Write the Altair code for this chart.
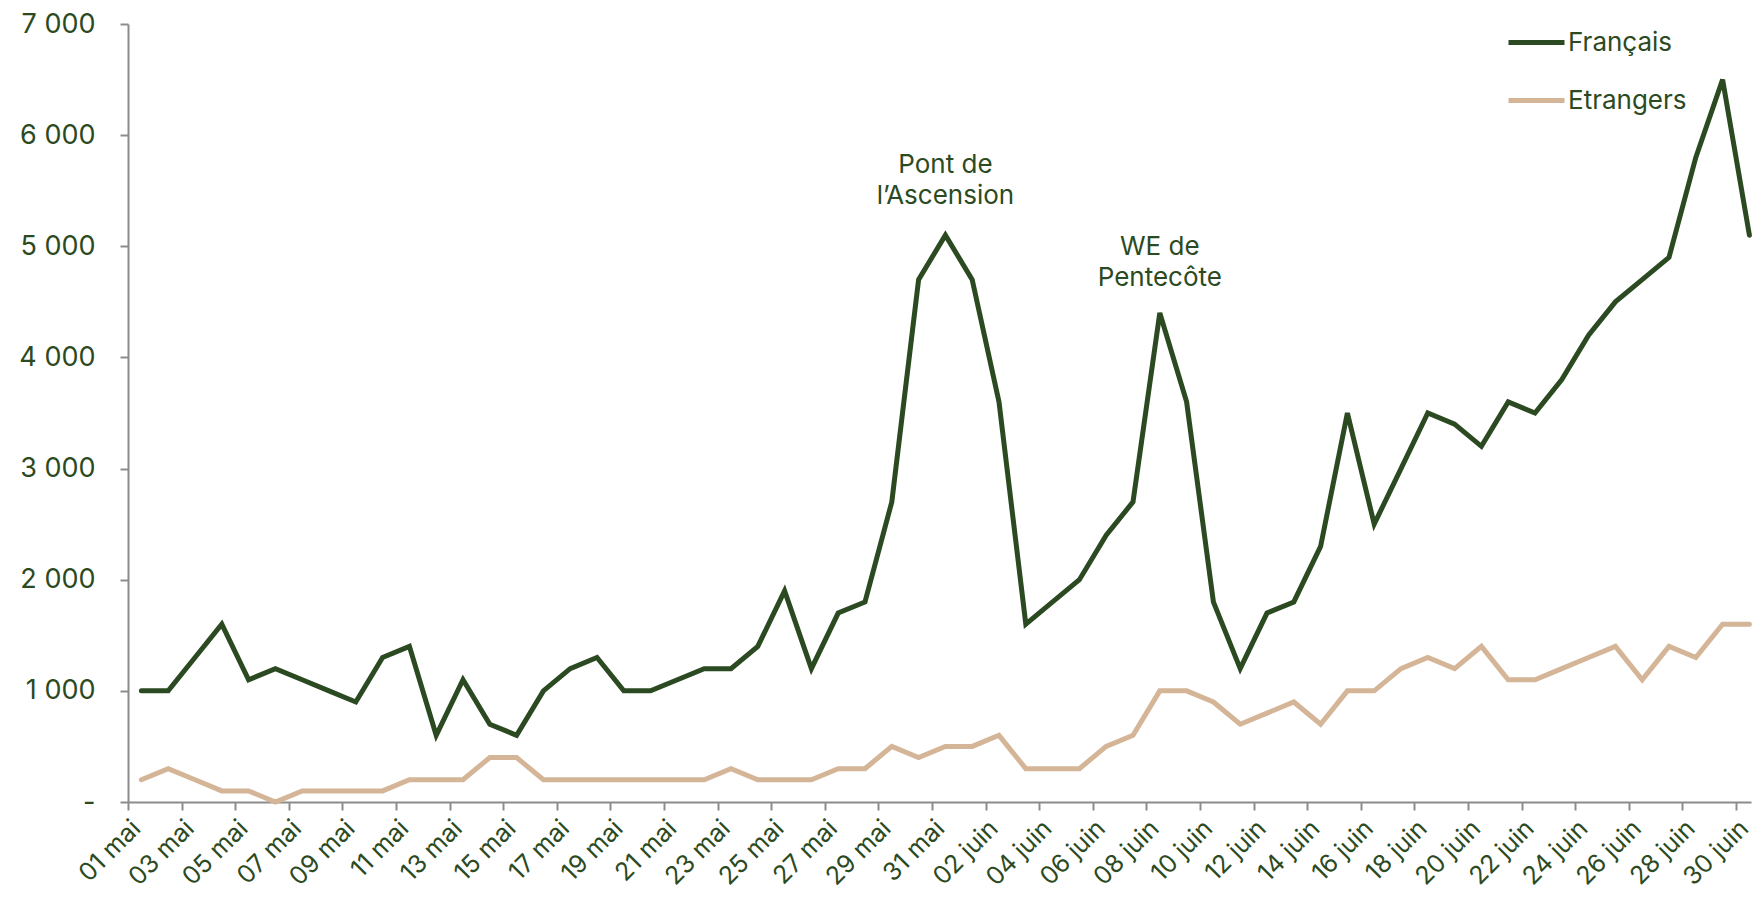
import altair as alt
import pandas as pd

# ---- data ----
dates = ([f"{d:02d} mai" for d in range(1, 32)] +
         [f"{d:02d} juin" for d in range(1, 31)])

francais = [1000, 1000, 1300, 1600, 1100, 1200, 1100, 1000, 900, 1300,
            1400, 600, 1100, 700, 600, 1000, 1200, 1300, 1000, 1000,
            1100, 1200, 1200, 1400, 1900, 1200, 1700, 1800, 2700, 4700,
            5100,
            4700, 3600, 1600, 1800, 2000, 2400, 2700, 4400, 3600, 1800,
            1200, 1700, 1800, 2300, 3500, 2500, 3000, 3500, 3400, 3200,
            3600, 3500, 3800, 4200, 4500, 4700, 4900, 5800, 6500, 5100]

etrangers = [200, 300, 200, 100, 100, 0, 100, 100, 100, 100,
             200, 200, 200, 400, 400, 200, 200, 200, 200, 200,
             200, 200, 300, 200, 200, 200, 300, 300, 500, 400,
             500,
             500, 600, 300, 300, 300, 500, 600, 1000, 1000, 900,
             700, 800, 900, 700, 1000, 1000, 1200, 1300, 1200, 1400,
             1100, 1100, 1200, 1300, 1400, 1100, 1400, 1300, 1600, 1600]

series_names = ["Français", "Etrangers"]
series_colors = ["#2C4A22", "#D4B597"]

tick_labels = dates[::2]
y_ticks = [0, 1000, 2000, 3000, 4000, 5000, 6000, 7000]

annot_text = ["Pont de\nl’Ascension", "WE de\nPentecôte"]
annot_date = ["31 mai", "08 juin"]
annot_y = [5730, 4990]

TEXT = "#2C4A22"
AXIS = "#8C8C8C"
FONT = "Inter"

# ---- tables ----
rows = []
for i, d in enumerate(dates):
    rows.append({"idx": i, "date": d, "serie": series_names[0], "val": francais[i]})
    rows.append({"idx": i, "date": d, "serie": series_names[1], "val": etrangers[i]})
df = pd.DataFrame(rows)

ann = pd.DataFrame({
    "idx": [dates.index(d) for d in annot_date],
    "val": annot_y,
    "txt": annot_text,
})

tick_vals = [i - 0.5 for i in range(0, len(dates), 2)]
label_arr = "[" + ",".join(f"'{t}'" for t in tick_labels) + "]"
x_label_expr = f"{label_arr}[round((datum.value + 0.5) / 2)]"

BAND = 26.8
W = 1623
x_scale = alt.Scale(domain=[-0.5, -0.5 + W / BAND], nice=False, zero=False)
y_scale = alt.Scale(domain=[0, 7000], nice=False)

x_axis = alt.Axis(
    values=tick_vals, labelExpr=x_label_expr, title=None,
    labelAngle=-45, labelAlign="right", labelBaseline="bottom",
    labelOffset=17, labelPadding=23,
    labelFont=FONT, labelFontSize=25, labelColor=TEXT,
    domainColor=AXIS, domainWidth=2, tickColor=AXIS, tickWidth=2, tickSize=8,
    grid=False, labelOverlap=False, labelBound=False, labelFlush=False,
)
y_axis = alt.Axis(
    values=y_ticks, title=None,
    labelExpr="datum.value == 0 ? '-' : replace(format(datum.value, ','), ',', ' ')",
    labelFont=FONT, labelFontSize=27, labelColor=TEXT, labelPadding=25,
    domainColor=AXIS, domainWidth=2, tickColor=AXIS, tickWidth=2, tickSize=8,
    grid=False, labelOverlap=False, labelFlush=False,
)

lines = alt.Chart(df).mark_line(strokeWidth=5, strokeCap="round").encode(
    x=alt.X("idx:Q", scale=x_scale, axis=x_axis),
    y=alt.Y("val:Q", scale=y_scale, axis=y_axis),
    color=alt.Color(
        "serie:N",
        scale=alt.Scale(domain=series_names, range=series_colors),
        sort=series_names,
        legend=alt.Legend(
            title=None, orient="none", legendX=1378, legendY=-12,
            symbolType="stroke", symbolSize=3136, symbolStrokeWidth=5,
            labelFont=FONT, labelFontSize=26, labelColor=TEXT,
            labelOffset=1, rowPadding=14,
        ),
    ),
    order=alt.Order("idx:Q"),
)

notes = alt.Chart(ann).mark_text(
    font=FONT, fontSize=26, color=TEXT, align="center", baseline="middle",
    lineBreak="\n", lineHeight=31,
).encode(
    x=alt.X("idx:Q", scale=x_scale),
    y=alt.Y("val:Q", scale=y_scale),
    text="txt:N",
)

chart = (lines + notes).properties(
    width=W, height=778,
    autosize=alt.AutoSizeParams(type="none"),
    padding={"left": 120, "top": 16, "right": 2, "bottom": 91},
    background="white",
).configure_view(stroke=None)

chart.save("out.html", embed_options={"renderer": "svg", "actions": False})
